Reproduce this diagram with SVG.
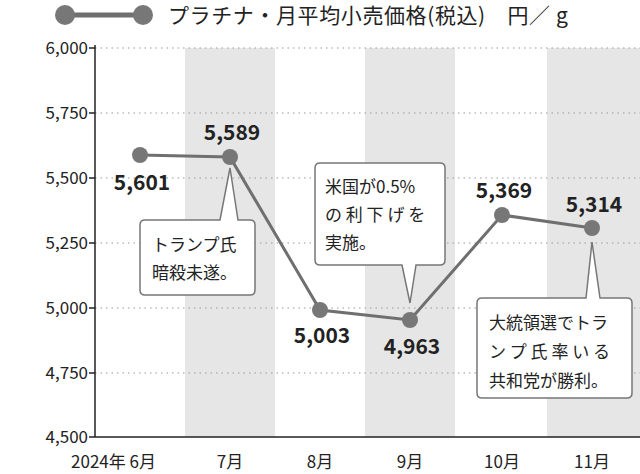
<svg xmlns="http://www.w3.org/2000/svg" width="640" height="474" viewBox="0 0 640 474">
<style>
text{font-family:"Noto Sans CJK JP","Liberation Sans",sans-serif;fill:#222}
.ax{font-size:17px;text-anchor:end}
.mo{font-size:17px;text-anchor:middle}
.val{font-size:21px;font-weight:bold;text-anchor:middle}
.co{font-size:17px}
.grid{stroke:#999;stroke-width:1.2;stroke-dasharray:1.5 4}
.band{fill:#e6e6e6}
.box{fill:#fff;stroke:#777;stroke-width:1.5}
.pt{fill:#777}
</style>
<rect width="640" height="474" fill="#fff"/>
<g id="bands">
<rect class="band" x="185" y="48" width="90" height="389"/>
<rect class="band" x="365" y="48" width="90" height="389"/>
<rect class="band" x="547" y="48" width="93" height="389"/>
</g>
<g id="grid">
<line class="grid" x1="95" y1="48" x2="640" y2="48"/>
<line class="grid" x1="95" y1="113" x2="640" y2="113"/>
<line class="grid" x1="95" y1="178" x2="640" y2="178"/>
<line class="grid" x1="95" y1="243" x2="640" y2="243"/>
<line class="grid" x1="95" y1="308" x2="640" y2="308"/>
<line class="grid" x1="95" y1="373" x2="640" y2="373"/>
</g>
<g id="axes" stroke="#222" stroke-width="1.5">
<line x1="95" y1="45" x2="95" y2="437"/>
<line x1="95" y1="437" x2="640" y2="437"/>
<line x1="89" y1="48" x2="95" y2="48"/><line x1="89" y1="113" x2="95" y2="113"/><line x1="89" y1="178" x2="95" y2="178"/><line x1="89" y1="243" x2="95" y2="243"/><line x1="89" y1="308" x2="95" y2="308"/><line x1="89" y1="373" x2="95" y2="373"/><line x1="89" y1="437" x2="95" y2="437"/>
</g>
<g id="ylabels">
<text class="ax" x="88" y="54">6,000</text>
<text class="ax" x="88" y="119">5,750</text>
<text class="ax" x="88" y="184">5,500</text>
<text class="ax" x="88" y="249">5,250</text>
<text class="ax" x="88" y="314">5,000</text>
<text class="ax" x="88" y="379">4,750</text>
<text class="ax" x="88" y="443">4,500</text>
</g>
<g id="xlabels">
<text class="ax" x="156" y="468">2024年 6月</text>
<text class="mo" x="230" y="468">7月</text>
<text class="mo" x="320" y="468">8月</text>
<text class="mo" x="410" y="468">9月</text>
<text class="mo" x="502" y="468">10月</text>
<text class="mo" x="592" y="468">11月</text>
</g>
<g id="legend">
<line x1="65" y1="15" x2="143" y2="15" stroke="#6f6f6f" stroke-width="5"/>
<circle cx="65" cy="15" r="10" class="pt"/><circle cx="143" cy="15" r="10" class="pt"/>
<text x="168" y="23" style="font-size:21px;letter-spacing:0.6px">プラチナ・月平均小売価格(税込)　円／ g</text>
</g>
<g id="connectors">
<polyline points="140,155 230,157 320,310 410,320 502,215 592,228" fill="none" stroke="#6f6f6f" stroke-width="3"/>
</g>
<g id="points">
<circle class="pt" cx="140" cy="155" r="8"/><circle class="pt" cx="230" cy="157" r="8"/><circle class="pt" cx="320" cy="310" r="8"/><circle class="pt" cx="410" cy="320" r="8"/><circle class="pt" cx="502" cy="215" r="8"/><circle class="pt" cx="592" cy="228" r="8"/>
</g>
<g id="values">
<text class="val" x="142" y="190">5,601</text>
<text class="val" x="232" y="140">5,589</text>
<text class="val" x="322" y="343">5,003</text>
<text class="val" x="412" y="354">4,963</text>
<text class="val" x="504" y="198">5,369</text>
<text class="val" x="594" y="212">5,314</text>
</g>
<g id="callout1">
<path class="box" d="M145,220 H220 L230,168 L238,220 H250 Q255,220 255,225 V290 Q255,295 250,295 H145 Q140,295 140,290 V225 Q140,220 145,220 Z"/>
<text class="co" x="152" y="251">トランプ氏</text>
<text class="co" x="152" y="279">暗殺未遂。</text>
</g>
<g id="callout2">
<path class="box" d="M320,163 H440 Q445,163 445,168 V260 Q445,265 440,265 H416 L410,303 L402,265 H320 Q315,265 315,260 V168 Q315,163 320,163 Z"/>
<text class="co" x="325" y="193">米国が0.5%</text>
<text class="co" x="325" y="221">の 利 下 げ を</text>
<text class="co" x="325" y="249">実施。</text>
</g>
<g id="callout3">
<path class="box" d="M482,298 H586 L592,242 L600,298 H627 Q632,298 632,303 V393 Q632,398 627,398 H482 Q477,398 477,393 V303 Q477,298 482,298 Z"/>
<text class="co" x="489" y="329">大統領選でトラ</text>
<text class="co" x="489" y="358">ン プ 氏 率 い る</text>
<text class="co" x="489" y="387">共和党が勝利。</text>
</g>
</svg>
